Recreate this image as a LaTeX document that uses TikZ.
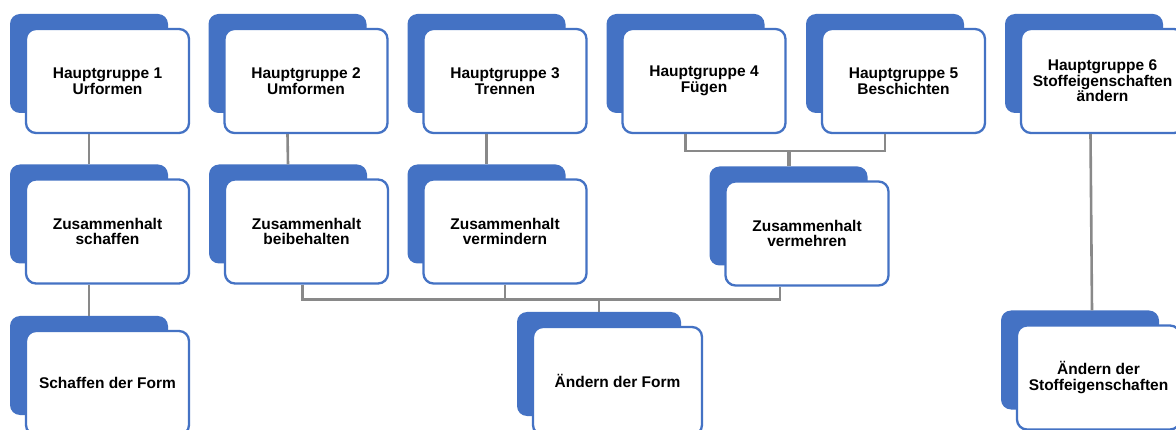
\documentclass[tikz,border=0pt]{standalone}
\usepackage{fontspec}
\setmainfont{Liberation Sans}
\usetikzlibrary{calc}
\definecolor{cardblue}{RGB}{68,114,196}
\definecolor{linegray}{RGB}{137,137,137}

\begin{document}
\begin{tikzpicture}[x=1pt,y=-1pt,
  backcard/.style={fill=cardblue, rounded corners=10pt, inner sep=0pt,
    minimum width=158pt, minimum height=99pt},
  frontcard/.style={draw=cardblue, fill=white, line width=2.3pt, rounded corners=10pt,
    inner sep=0pt, minimum width=163pt, minimum height=104pt, align=center,
    font=\fontsize{15.5}{15.5}\selectfont\bfseries},
  link/.style={draw=linegray, line width=2.6pt},
  stub/.style={draw=linegray, line width=4pt}]
\clip (0,0) rectangle (1176,430);
\fill[white] (0,0) rectangle (1176,430);
% cards: name / centre of the white card / text
\foreach \n/\cx/\cy/\t in {
  h1/107.5/81/{Hauptgruppe 1\\Urformen},
  h2/306/81/{Hauptgruppe 2\\Umformen},
  h3/505/81/{Hauptgruppe 3\\Trennen},
  h4/704/81/{Hauptgruppe 4\\Fügen},
  h5/903.5/81/{Hauptgruppe 5\\Beschichten},
  h6/1102.5/81/{Hauptgruppe 6\\Stoffeigenschaften\\ändern},
  z1/107.5/231.5/{Zusammenhalt\\schaffen},
  z2/306.5/231.5/{Zusammenhalt\\beibehalten},
  z3/505/231.5/{Zusammenhalt\\vermindern},
  z4/807/233.5/{Zusammenhalt\\vermehren},
  s1/107.5/383/{Schaffen der Form},
  s6/1098.5/377.5/{Ändern der\\Stoffeigenschaften}} {
 \node[backcard] (\n b) at (\cx-18.5,\cy-17.5) {};
 \node[frontcard] (\n) at (\cx,\cy) {\t};
}
\node[backcard, minimum width=164pt, minimum height=104pt] (s2b) at (599,364) {};
\node[frontcard, minimum width=169pt, minimum height=108pt] (s2) at (617.5,381) {Ändern der Form};
% connectors
\draw[link] (h1.south -| h1b.south) -- (z1b.north);
\draw[link] (z1.south -| z1b.south) -- (s1b.north);
\draw[link] (h2.south -| h2b.south) -- (z2b.north);
\draw[link] (h3.south -| h3b.south) -- (z3b.north);
\draw[link] (h4.south -| h4b.south) -- ++(0,17) coordinate (j45) -| (h5.south -| h5b.south);
\draw[stub] (z4b.north) -- (z4b.north |- j45);
\draw[link] ($(z2.south)+(-4,0)$) -- ++(0,15) coordinate (jf) -| ($(z4.south)+(-27,0)$);
\draw[link] (z3.south) -- (z3.south |- jf);
\draw[link] (s2b.north) -- (s2b.north |- jf);
\draw[link] ($(h6.south)+(-12,0)$) -- ($(s6b.north)+(12,0)$);
\end{tikzpicture}
\end{document}
